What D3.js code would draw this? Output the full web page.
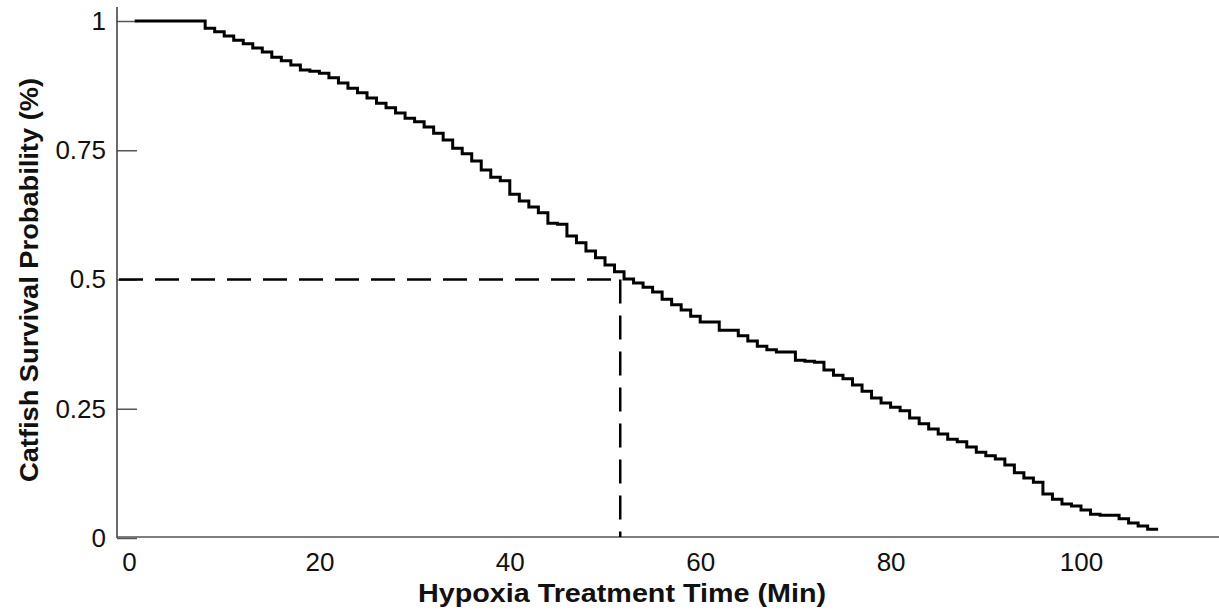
<!DOCTYPE html>
<html>
<head>
<meta charset="utf-8">
<script src="https://cdnjs.cloudflare.com/ajax/libs/d3/7.8.5/d3.min.js"></script>
<style>
	body { margin: 0; background: #fff; }
	svg { display: block; font-family: "Liberation Sans", Arial, sans-serif; }
</style>
</head>
<body>
<svg width="1219" height="613"></svg>
<script>
'use strict';

// Kaplan-Meier step points (time in min, survival fraction)
var times = [0.6, 8, 9, 10, 11, 12, 13, 14, 15, 16, 17, 18, 19, 20,
	21, 22, 23, 24, 25, 26, 27, 28, 29, 30, 31, 32, 33, 34, 35, 36, 37, 38, 39, 40,
	41, 42, 43, 44, 45, 46, 47, 48, 49, 50, 51, 52, 53, 54, 55, 56, 57, 58, 59, 60,
	61, 62, 63, 64, 65, 66, 67, 68, 69, 70, 71, 72, 73, 74, 75, 76, 77, 78, 79, 80,
	81, 82, 83, 84, 85, 86, 87, 88, 89, 90, 91, 92, 93, 94, 95, 96, 97, 98, 99, 100,
	101, 102, 103, 104, 105, 106, 107, 108.1];
var survival = [1, 0.986, 0.979, 0.971, 0.963, 0.956, 0.948, 0.940, 0.930, 0.923, 0.915, 0.905, 0.903, 0.899,
	0.890, 0.880, 0.870, 0.861, 0.851, 0.841, 0.832, 0.822, 0.812, 0.805, 0.795, 0.783, 0.770, 0.754, 0.743, 0.729, 0.712, 0.698, 0.691, 0.665,
	0.652, 0.640, 0.629, 0.609, 0.607, 0.584, 0.571, 0.555, 0.542, 0.528, 0.515, 0.501, 0.493, 0.485, 0.476, 0.462, 0.451, 0.441, 0.429, 0.418,
	0.418, 0.402, 0.402, 0.391, 0.381, 0.371, 0.364, 0.360, 0.360, 0.344, 0.342, 0.340, 0.325, 0.315, 0.308, 0.296, 0.284, 0.271, 0.261, 0.253,
	0.246, 0.232, 0.221, 0.211, 0.201, 0.191, 0.186, 0.176, 0.166, 0.159, 0.153, 0.141, 0.126, 0.116, 0.108, 0.085, 0.075, 0.066, 0.062, 0.054,
	0.046, 0.044, 0.044, 0.037, 0.029, 0.023, 0.017, 0.017];

var xTicks = [0, 20, 40, 60, 80, 100];
var yTicks = [0, 0.25, 0.5, 0.75, 1];
var yTickLabels = ['0', '0.25', '0.5', '0.75', '1'];

// median survival time (dashed guide)
var medianTime = 51.6;
var medianSurvival = 0.5;

var xTitle = 'Hypoxia Treatment Time (Min)';
var yTitle = 'Catfish Survival Probability (%)';

var svg = d3.select('svg');

var x = d3.scaleLinear().domain([0, 100]).range([129, 1081]);
var y = d3.scaleLinear().domain([0, 1]).range([538, 21]);

var axisX = 117;       // left axis position
var axisBottomY = 537; // bottom axis position

/**
 * Axes
 */
var yAxis = d3.axisLeft(y)
	.tickValues(yTicks)
	.tickFormat(function (d, i) { return yTickLabels[i]; })
	.tickSizeInner(-20)
	.tickSizeOuter(0)
	.tickPadding(11);

var gy = svg.append('g')
	.attr('transform', 'translate(' + axisX + ',0)')
	.call(yAxis);
gy.select('.domain').remove();
gy.selectAll('.tick line').attr('stroke', '#555').attr('stroke-width', 1.5);
gy.selectAll('.tick text')
	.attr('font-size', 26)
	.attr('font-family', '"Liberation Sans", Arial, sans-serif')
	.attr('fill', '#111');

var xAxis = d3.axisBottom(x)
	.tickValues(xTicks)
	.tickFormat(d3.format('d'))
	.tickSize(0)
	.tickPadding(15.5);

var gx = svg.append('g')
	.attr('transform', 'translate(0,' + axisBottomY + ')')
	.call(xAxis);
gx.select('.domain').remove();
gx.selectAll('.tick text')
	.attr('font-size', 26)
	.attr('font-family', '"Liberation Sans", Arial, sans-serif')
	.attr('fill', '#111');

// axis lines
svg.append('line')
	.attr('x1', axisX).attr('x2', axisX)
	.attr('y1', 7).attr('y2', axisBottomY + 1)
	.attr('stroke', '#444').attr('stroke-width', 1.6);
svg.append('line')
	.attr('x1', axisX).attr('x2', 1219)
	.attr('y1', axisBottomY).attr('y2', axisBottomY)
	.attr('stroke', '#555').attr('stroke-width', 1.6);

/**
 * Median guide lines
 */
svg.append('path')
	.attr('d', 'M' + (axisX + 2) + ',' + y(medianSurvival) + 'H' + x(medianTime))
	.attr('fill', 'none')
	.attr('stroke', '#000')
	.attr('stroke-width', 2.5)
	.attr('stroke-dasharray', '24,12');
svg.append('path')
	.attr('d', 'M' + x(medianTime) + ',' + y(medianSurvival) + 'V' + axisBottomY)
	.attr('fill', 'none')
	.attr('stroke', '#000')
	.attr('stroke-width', 2.5)
	.attr('stroke-dasharray', '24,12');

/**
 * Survival curve
 */
var points = times.map(function (t, i) { return [t, survival[i]]; });
var line = d3.line()
	.x(function (d) { return x(d[0]); })
	.y(function (d) { return y(d[1]); })
	.curve(d3.curveStepAfter);

svg.append('path')
	.datum(points)
	.attr('d', line)
	.attr('fill', 'none')
	.attr('stroke', '#000')
	.attr('stroke-width', 3);

/**
 * Titles
 */
svg.append('text')
	.attr('x', 622)
	.attr('y', 602)
	.attr('text-anchor', 'middle')
	.attr('font-size', 26)
	.attr('font-weight', 'bold')
	.attr('fill', '#111')
	.attr('textLength', 408)
	.attr('lengthAdjust', 'spacingAndGlyphs')
	.text(xTitle);

svg.append('text')
	.attr('transform', 'translate(38,280) rotate(-90)')
	.attr('text-anchor', 'middle')
	.attr('font-size', 26)
	.attr('font-weight', 'bold')
	.attr('fill', '#111')
	.attr('textLength', 404)
	.attr('lengthAdjust', 'spacingAndGlyphs')
	.text(yTitle);
</script>
</body>
</html>
